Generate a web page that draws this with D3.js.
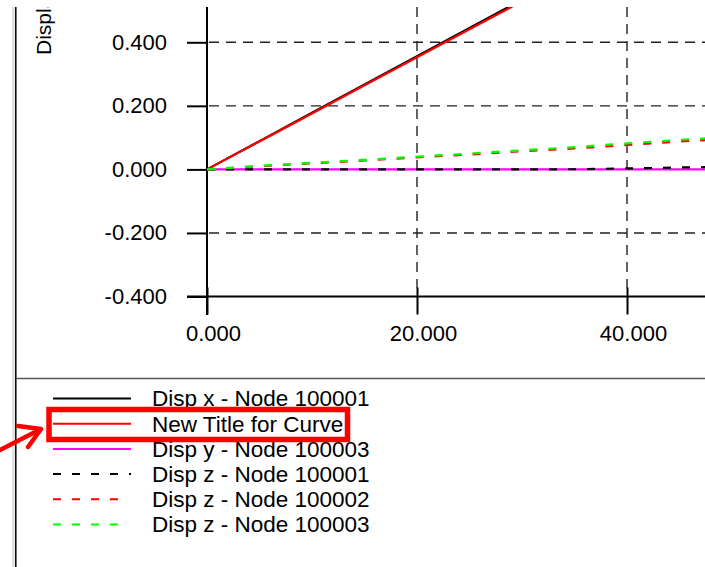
<!DOCTYPE html>
<html>
<head>
<meta charset="utf-8">
<script src="https://cdn.jsdelivr.net/npm/d3@7"></script>
<style>
  body { margin: 0; background: #fff; }
  svg { display: block; font-family: "Liberation Sans", Arial, sans-serif; }
</style>
</head>
<body>
<div id="vis"></div>
<script>
// data
let xs = [0, 5, 10, 15, 20, 25, 30, 35, 40, 45, 47.5];
let dispX100001 = [0, 0.089, 0.178, 0.267, 0.356, 0.445, 0.534, 0.623, 0.712, 0.801, 0.846];
let newTitleCurve = [0, 0.088, 0.176, 0.265, 0.353, 0.441, 0.529, 0.618, 0.706, 0.794, 0.838];
let dispY100003 = [0, 0, 0, 0, 0, 0, 0, 0, 0, 0, 0];
let dispZ100001 = [0, 0, 0, 0, 0, 0, 0, 0.0005, 0.003, 0.006, 0.007];
let dispZ100002 = [0, 0.010, 0.019, 0.028, 0.038, 0.047, 0.057, 0.066, 0.077, 0.088, 0.092];
let dispZ100003 = [0, 0.011, 0.021, 0.030, 0.040, 0.050, 0.060, 0.070, 0.082, 0.093, 0.098];

let seriesNames = ['Disp x - Node 100001', 'New Title for Curve', 'Disp y - Node 100003',
                   'Disp z - Node 100001', 'Disp z - Node 100002', 'Disp z - Node 100003'];
let seriesColors = ['#000000', '#ff0000', '#ff00ff', '#000000', '#ff0000', '#00ff00'];
let seriesDashed = [false, false, false, true, true, true];
let seriesValues = [dispX100001, newTitleCurve, dispY100003, dispZ100001, dispZ100002, dispZ100003];

let xTicks = [0, 20, 40];
let yTicks = [-0.4, -0.2, 0, 0.2, 0.4];
let yLabel = 'Displacement';

let W = 705, H = 567;
let fmt = function (d) { return d.toFixed(3) }; // plain hyphen for negatives

let svg = d3.select('#vis').append('svg')
  .attr('width', W)
  .attr('height', H);

svg.append('clipPath').attr('id', 'page')
  .append('rect').attr('x', 0).attr('y', 7).attr('width', W).attr('height', H - 7);
svg.append('clipPath').attr('id', 'plot')
  .append('rect').attr('x', 207).attr('y', 7).attr('width', W - 207).attr('height', 300);

let root = svg.append('g').attr('clip-path', 'url(#page)');

// window frame
root.append('rect').attr('x', 12).attr('y', 0).attr('width', 3).attr('height', H).attr('fill', '#e3e3e3');
root.append('line').attr('x1', 15.8).attr('x2', 15.8).attr('y1', 0).attr('y2', H)
  .attr('stroke', '#111').attr('stroke-width', 1.6);
root.append('line').attr('x1', 16).attr('x2', W).attr('y1', 378.5).attr('y2', 378.5)
  .attr('stroke', '#555').attr('stroke-width', 1.6);

// scales
let x = d3.scaleLinear().domain([0, 40]).range([207, 627]);
let y = d3.scaleLinear().domain([-0.4, 0.4]).range([296.5, 42.3]);

// grid
let grid = root.append('g').attr('stroke', '#222').attr('stroke-width', 1.4).attr('stroke-dasharray', '10,7');
grid.selectAll('.hg').data(yTicks.filter(d => d > -0.4 && d !== 0)).enter().append('line')
  .attr('x1', 209).attr('x2', W)
  .attr('y1', d => y(d)).attr('y2', d => y(d));
grid.selectAll('.vg').data(xTicks.filter(d => d > 0)).enter().append('line')
  .attr('x1', d => x(d)).attr('x2', d => x(d))
  .attr('y1', 7).attr('y2', 288);

// axes
let yAxis = d3.axisLeft(y).tickValues(yTicks).tickSize(20).tickPadding(20).tickFormat(fmt);
let gy = root.append('g').attr('transform', 'translate(207,0)').call(yAxis);
gy.select('.domain').remove();
gy.selectAll('line').attr('stroke', '#000').attr('stroke-width', 2);
gy.selectAll('text').attr('font-size', 22).attr('fill', '#000');

let xAxis = d3.axisBottom(x).tickValues(xTicks).tickSize(18).tickPadding(11).tickFormat(fmt);
let gx = root.append('g').attr('transform', 'translate(0,' + y(-0.4) + ')').call(xAxis);
gx.select('.domain').remove();
gx.selectAll('line').attr('y1', -9).attr('stroke', '#000').attr('stroke-width', 2);
gx.selectAll('text').attr('font-size', 22).attr('fill', '#000').attr('x', 6);

root.append('line').attr('x1', 187).attr('x2', W).attr('y1', y(-0.4)).attr('y2', y(-0.4))
  .attr('stroke', '#000').attr('stroke-width', 2);
root.append('line').attr('x1', x(0)).attr('x2', x(0)).attr('y1', 0).attr('y2', 315)
  .attr('stroke', '#000').attr('stroke-width', 2);

// y label (clipped at the top like the window)
root.append('text')
  .attr('transform', 'translate(51,55) rotate(-90)')
  .attr('font-size', 21)
  .attr('fill', '#000')
  .text(yLabel);

// curves
let line = d3.line().x((d, i) => x(xs[i])).y(d => y(d));
let curves = root.append('g').attr('clip-path', 'url(#plot)');
seriesValues.forEach(function (vals, i) {
  curves.append('path')
    .attr('d', line(vals))
    .attr('fill', 'none')
    .attr('stroke', seriesColors[i])
    .attr('stroke-width', 2.2)
    .attr('stroke-dasharray', seriesDashed[i] ? '8,11' : null);
});

// legend
let legend = root.append('g');
seriesNames.forEach(function (name, i) {
  let cy = 398.5 + i * 25.2;
  legend.append('line')
    .attr('x1', 53).attr('x2', (i >= 4) ? 121 : 131)
    .attr('y1', cy).attr('y2', cy)
    .attr('stroke', seriesColors[i])
    .attr('stroke-width', 2)
    .attr('stroke-dasharray', seriesDashed[i] ? '8,11' : null);
  legend.append('text')
    .attr('x', 152).attr('y', cy + 7.8)
    .attr('font-size', 22.5)
    .attr('fill', '#000')
    .text(name);
});

// highlight annotation
root.append('rect')
  .attr('x', 49).attr('y', 409.5).attr('width', 298.5).attr('height', 30)
  .attr('fill', 'none').attr('stroke', '#ff0000').attr('stroke-width', 5.5);
root.append('path')
  .attr('d', 'M-2,451 L41,429 M18,426 L41,429 L28,447')
  .attr('fill', 'none').attr('stroke', '#ff0000').attr('stroke-width', 4.5)
  .attr('stroke-linecap', 'round').attr('stroke-linejoin', 'round');
</script>
</body>
</html>
